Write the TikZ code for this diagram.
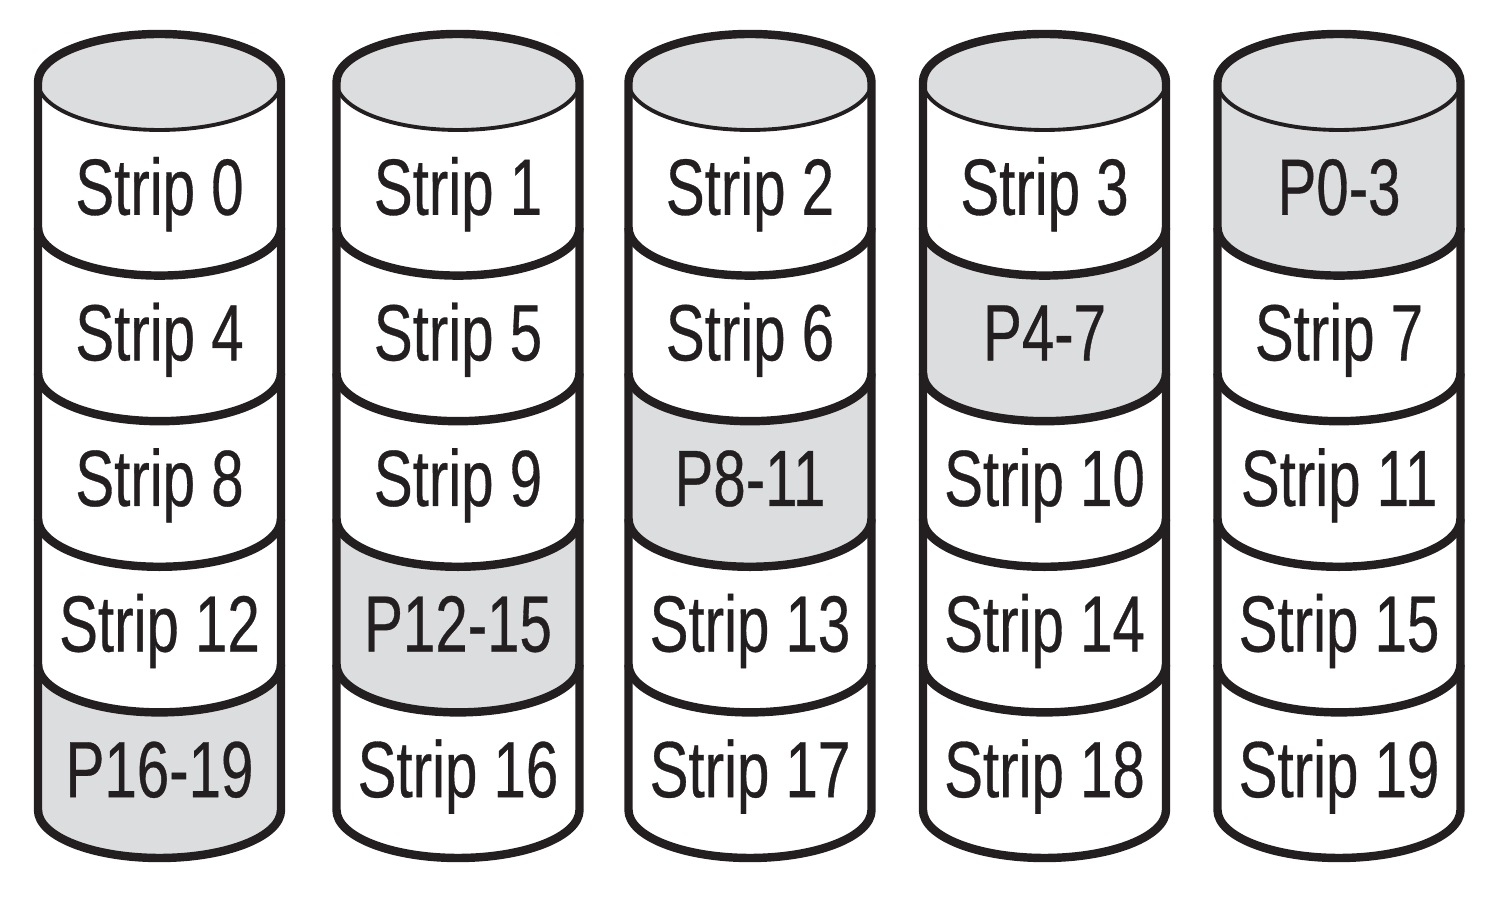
\documentclass[tikz,border=0pt]{standalone}
\usepackage{fontspec}
\newfontfamily\stripfont[FakeStretch=0.73,FakeBold=0.4]{Liberation Sans}
\usetikzlibrary{positioning}
\definecolor{diskgray}{HTML}{DCDDDF}
\definecolor{diskline}{HTML}{231F20}
\tikzset{
  rim/.style={draw=diskline, line width=2.4pt, line join=round},
  lid/.style={draw=diskline, line width=1.1pt},
  strip/.style={font=\stripfont\fontsize{22.7}{26}\selectfont, text=diskline, anchor=base, inner sep=0pt},
}
\begin{document}
\begin{tikzpicture}
\useasboundingbox (0,0) rectangle (14.9,9.1);

\foreach \d/\x in {1/1.595, 2/4.58, 3/7.5, 4/10.445, 5/13.39}{
  % the five bands of one disk
  \foreach \r in {0,...,4}{
    \pgfmathsetmacro\yt{8.28-1.456*\r}
    \pgfmathsetmacro\yb{\yt-1.456}
    \pgfmathtruncatemacro\p{5-\r}
    \pgfmathtruncatemacro\a{4*\r}
    \pgfmathtruncatemacro\b{4*\r+3}
    \pgfmathtruncatemacro\s{\d<\p ? 4*\r+\d-1 : 4*\r+\d-2}
    \ifnum\d=\p \def\lab{P\a-\b}\def\col{diskgray}\else\def\lab{Strip \s}\def\col{white}\fi
    \fill[\col] (\x-1.215,\yt) -- (\x-1.215,\yb)
      arc[start angle=180, end angle=360, x radius=1.215, y radius=0.48]
      -- (\x+1.215,\yt)
      arc[start angle=0, end angle=-180, x radius=1.215, y radius=0.48] -- cycle;
    \node[strip] (D\d-\r) at (\x,\yt-1.328) {\lab};
  }
  % lid
  \fill[diskgray] (\x,8.28) ellipse[x radius=1.215, y radius=0.48];
  \draw[lid] (\x-1.215,8.28) arc[start angle=180, end angle=360, x radius=1.215, y radius=0.48];
  % band edges
  \foreach \k in {1,...,4}
    \draw[rim] (\x-1.215,8.28-1.456*\k) arc[start angle=180, end angle=360, x radius=1.215, y radius=0.48];
  % outline
  \draw[rim] (\x-1.215,8.28) -- (\x-1.215,1.0)
    arc[start angle=180, end angle=360, x radius=1.215, y radius=0.48]
    -- (\x+1.215,8.28)
    arc[start angle=0, end angle=180, x radius=1.215, y radius=0.48] -- cycle;
}

\end{tikzpicture}
\end{document}
